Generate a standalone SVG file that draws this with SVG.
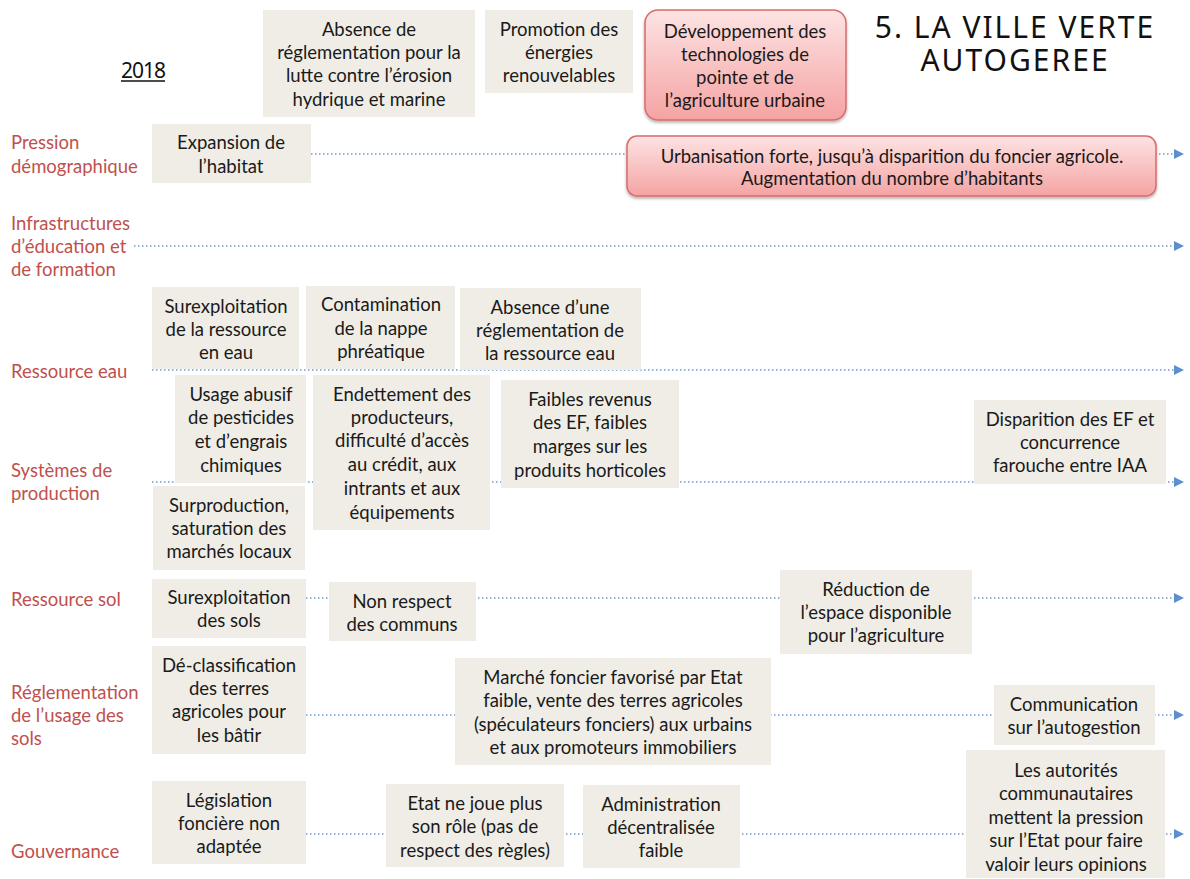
<svg xmlns="http://www.w3.org/2000/svg" width="1190" height="879" viewBox="0 0 1190 879">
<style>
.bx{fill:#efede6;}
.pk{fill:url(#pg);stroke:#d86b6b;stroke-width:1.5;}
.t{font-family:Lato,"Open Sans",sans-serif;font-size:18.5px;fill:#1a1a1a;text-anchor:middle;}
.lb{font-family:Lato,"Open Sans",sans-serif;font-size:18.5px;fill:#c0504d;}
.ln{stroke:#6d9bd3;stroke-width:1.5;stroke-dasharray:1.5 2.5;fill:none;marker-end:url(#ar);}
.ti{font-family:"Noto Sans","DejaVu Sans",sans-serif;font-size:30px;letter-spacing:2px;fill:#111;text-anchor:middle;}
</style>
<defs>
<linearGradient id="pg" x1="0" y1="0" x2="0" y2="1">
<stop offset="0" stop-color="#fde3e3"/>
<stop offset="1" stop-color="#f5a3a3"/>
</linearGradient>
<filter id="sh" x="-10%" y="-10%" width="120%" height="130%">
<feDropShadow dx="0" dy="2" stdDeviation="1.5" flood-color="#000" flood-opacity="0.3"/>
</filter>
<marker id="ar" viewBox="0 0 10 10" refX="0" refY="5" markerWidth="10" markerHeight="10" markerUnits="userSpaceOnUse" orient="auto">
<path d="M0,0 L10,5 L0,10 Z" fill="#5b8fd0"/>
</marker>
</defs>
<rect width="1190" height="879" fill="#fff"/>

<g id="connectors">
<line class="ln" x1="311" y1="154" x2="1174" y2="154"/>
<line class="ln" x1="134" y1="246" x2="1174" y2="246"/>
<line class="ln" x1="152" y1="370" x2="1174" y2="370"/>
<line class="ln" x1="152" y1="482" x2="1174" y2="482"/>
<line class="ln" x1="306" y1="598" x2="1174" y2="598"/>
<line class="ln" x1="306" y1="715" x2="1174" y2="715"/>
<line class="ln" x1="306" y1="834" x2="1174" y2="834"/>
</g>

<g id="title">
<text class="ti" x="1015" y="38">5. LA VILLE VERTE</text>
<text class="ti" x="1015" y="71">AUTOGEREE</text>
</g>
<g id="year">
<text x="143" y="78" font-family="'Noto Sans','DejaVu Sans',sans-serif" font-size="21" letter-spacing="-1" fill="#111" text-anchor="middle">2018</text>
<line x1="121" y1="81" x2="165" y2="81" stroke="#111" stroke-width="1.5"/>
</g>

<g id="labels">
<text class="lb" x="11" y="149">Pression</text>
<text class="lb" x="11" y="173">démographique</text>
<text class="lb" x="11" y="230">Infrastructures</text>
<text class="lb" x="11" y="253">d’éducation et</text>
<text class="lb" x="11" y="276">de formation</text>
<text class="lb" x="11" y="378">Ressource eau</text>
<text class="lb" x="11" y="477">Systèmes de</text>
<text class="lb" x="11" y="500">production</text>
<text class="lb" x="11" y="606">Ressource sol</text>
<text class="lb" x="11" y="699">Réglementation</text>
<text class="lb" x="11" y="722">de l’usage des</text>
<text class="lb" x="11" y="745">sols</text>
<text class="lb" x="11" y="858">Gouvernance</text>
</g>

<g id="n-absence-erosion">
<rect class="bx" x="263" y="10" width="212" height="107"/>
<text class="t" x="369" y="36">Absence de</text>
<text class="t" x="369" y="59">réglementation pour la</text>
<text class="t" x="369" y="82">lutte contre l’érosion</text>
<text class="t" x="369" y="106">hydrique et marine</text>
</g>
<g id="n-energies">
<rect class="bx" x="485" y="10" width="148" height="83"/>
<text class="t" x="559" y="36">Promotion des</text>
<text class="t" x="559" y="59">énergies</text>
<text class="t" x="559" y="82">renouvelables</text>
</g>
<g id="n-technologies">
<rect class="pk" x="645" y="10" width="201" height="110" rx="13" filter="url(#sh)"/>
<text class="t" x="745" y="38">Développement des</text>
<text class="t" x="745" y="61">technologies de</text>
<text class="t" x="745" y="84">pointe et de</text>
<text class="t" x="745" y="107">l’agriculture urbaine</text>
</g>
<g id="n-expansion">
<rect class="bx" x="152" y="124" width="159" height="59"/>
<text class="t" x="231" y="149">Expansion de</text>
<text class="t" x="231" y="173">l’habitat</text>
</g>
<g id="n-urbanisation">
<rect class="pk" x="627" y="136" width="529" height="60" rx="10" filter="url(#sh)"/>
<text class="t" x="892" y="163">Urbanisation forte, jusqu’à disparition du foncier agricole.</text>
<text class="t" x="892" y="185">Augmentation du nombre d’habitants</text>
</g>
<g id="n-surexploitation-eau">
<rect class="bx" x="152" y="287" width="147" height="82"/>
<text class="t" x="226" y="313">Surexploitation</text>
<text class="t" x="226" y="336">de la ressource</text>
<text class="t" x="226" y="359">en eau</text>
</g>
<g id="n-contamination">
<rect class="bx" x="306" y="286" width="149" height="83"/>
<text class="t" x="381" y="311">Contamination</text>
<text class="t" x="381" y="335">de la nappe</text>
<text class="t" x="381" y="358">phréatique</text>
</g>
<g id="n-absence-eau">
<rect class="bx" x="460" y="288" width="181" height="82"/>
<text class="t" x="550" y="314">Absence d’une</text>
<text class="t" x="550" y="337">réglementation de</text>
<text class="t" x="550" y="360">la ressource eau</text>
</g>
<g id="n-pesticides">
<rect class="bx" x="175" y="375" width="131" height="108"/>
<text class="t" x="241" y="401">Usage abusif</text>
<text class="t" x="241" y="424">de pesticides</text>
<text class="t" x="241" y="448">et d’engrais</text>
<text class="t" x="241" y="472">chimiques</text>
</g>
<g id="n-endettement">
<rect class="bx" x="313" y="375" width="177" height="155"/>
<text class="t" x="402" y="401">Endettement des</text>
<text class="t" x="402" y="424">producteurs,</text>
<text class="t" x="402" y="447">difficulté d’accès</text>
<text class="t" x="402" y="471">au crédit, aux</text>
<text class="t" x="402" y="495">intrants et aux</text>
<text class="t" x="402" y="519">équipements</text>
</g>
<g id="n-revenus">
<rect class="bx" x="501" y="380" width="178" height="108"/>
<text class="t" x="590" y="406">Faibles revenus</text>
<text class="t" x="590" y="429">des EF, faibles</text>
<text class="t" x="590" y="453">marges sur les</text>
<text class="t" x="590" y="477">produits horticoles</text>
</g>
<g id="n-surproduction">
<rect class="bx" x="153" y="486" width="152" height="84"/>
<text class="t" x="229" y="512">Surproduction,</text>
<text class="t" x="229" y="535">saturation des</text>
<text class="t" x="229" y="558">marchés locaux</text>
</g>
<g id="n-disparition-ef">
<rect class="bx" x="974" y="400" width="192" height="84"/>
<text class="t" x="1070" y="426">Disparition des EF et</text>
<text class="t" x="1070" y="449">concurrence</text>
<text class="t" x="1070" y="472">farouche entre IAA</text>
</g>
<g id="n-surexploitation-sols">
<rect class="bx" x="152" y="579" width="154" height="59"/>
<text class="t" x="229" y="604">Surexploitation</text>
<text class="t" x="229" y="627">des sols</text>
</g>
<g id="n-communs">
<rect class="bx" x="329" y="582" width="147" height="59"/>
<text class="t" x="402" y="608">Non respect</text>
<text class="t" x="402" y="631">des communs</text>
</g>
<g id="n-reduction">
<rect class="bx" x="780" y="570" width="192" height="84"/>
<text class="t" x="876" y="596">Réduction de</text>
<text class="t" x="876" y="619">l’espace disponible</text>
<text class="t" x="876" y="642">pour l’agriculture</text>
</g>
<g id="n-declassification">
<rect class="bx" x="152" y="646" width="154" height="108"/>
<text class="t" x="229" y="672">Dé-classification</text>
<text class="t" x="229" y="695">des terres</text>
<text class="t" x="229" y="718">agricoles pour</text>
<text class="t" x="229" y="742">les bâtir</text>
</g>
<g id="n-marche-foncier">
<rect class="bx" x="455" y="658" width="316" height="107"/>
<text class="t" x="613" y="684">Marché foncier favorisé par Etat</text>
<text class="t" x="613" y="707">faible, vente des terres agricoles</text>
<text class="t" x="613" y="731">(spéculateurs fonciers) aux urbains</text>
<text class="t" x="613" y="754">et aux promoteurs immobiliers</text>
</g>
<g id="n-communication">
<rect class="bx" x="994" y="685" width="161" height="60"/>
<text class="t" x="1074" y="711">Communication</text>
<text class="t" x="1074" y="734">sur l’autogestion</text>
</g>
<g id="n-legislation">
<rect class="bx" x="152" y="781" width="154" height="83"/>
<text class="t" x="229" y="807">Législation</text>
<text class="t" x="229" y="830">foncière non</text>
<text class="t" x="229" y="853">adaptée</text>
</g>
<g id="n-etat">
<rect class="bx" x="386" y="784" width="178" height="83"/>
<text class="t" x="475" y="810">Etat ne joue plus</text>
<text class="t" x="475" y="833">son rôle (pas de</text>
<text class="t" x="475" y="857">respect des règles)</text>
</g>
<g id="n-administration">
<rect class="bx" x="583" y="785" width="157" height="83"/>
<text class="t" x="661" y="811">Administration</text>
<text class="t" x="661" y="834">décentralisée</text>
<text class="t" x="661" y="857">faible</text>
</g>
<g id="n-autorites">
<rect class="bx" x="966" y="750" width="199" height="128"/>
<text class="t" x="1066" y="777">Les autorités</text>
<text class="t" x="1066" y="800">communautaires</text>
<text class="t" x="1066" y="824">mettent la pression</text>
<text class="t" x="1066" y="847">sur l’Etat pour faire</text>
<text class="t" x="1066" y="871">valoir leurs opinions</text>
</g>
</svg>
